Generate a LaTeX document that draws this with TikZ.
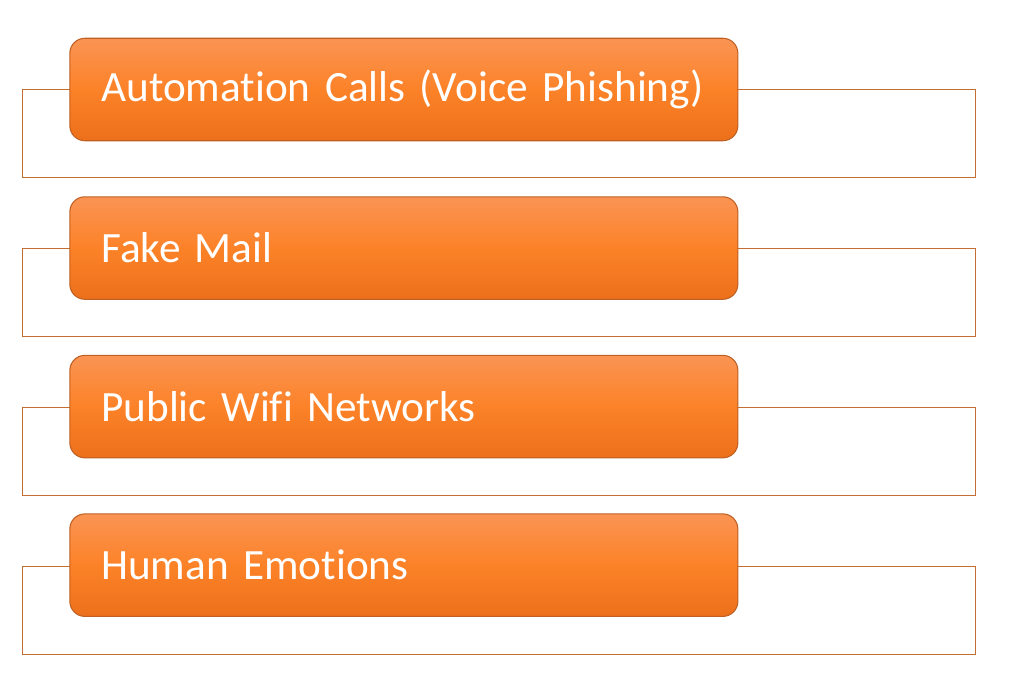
\documentclass[tikz,border=0pt]{standalone}
\usepackage{fontspec}
\setmainfont{Carlito}[Ligatures={NoCommon}]
\usepackage{xcolor}
\usetikzlibrary{positioning,calc}
\definecolor{orangetop}{RGB}{250,148,84}
\definecolor{orangemid}{RGB}{252,130,40}
\definecolor{orangebot}{RGB}{236,112,26}
\definecolor{orangeedge}{RGB}{190,96,36}
\definecolor{frameline}{RGB}{196,110,50}
\tikzset{
  itembox/.style={rectangle,rounded corners=0.3cm,draw=orangeedge,line width=0.6pt,
    top color=orangetop,bottom color=orangebot,middle color=orangemid,
    minimum width=13.33cm,minimum height=2.05cm,text width=12.1cm,align=left,
    inner xsep=0.63cm,font=\fontsize{24.6}{28}\selectfont,text=white},
  framepath/.style={draw=frameline,line width=0.7pt}
}
\begin{document}
\begin{tikzpicture}[node distance=1.10cm]
  \useasboundingbox (0,0) rectangle (20.26,-13.98);
  % frames first, so the boxes lie on top
  \foreach \i in {0,1,2,3}{
    \draw[framepath] (0.446,{-1.79-3.178*\i}) rectangle (19.514,{-3.554-3.178*\i});
  }
  \node[itembox] (calls) at (8.077,-1.79) {Automation Calls (Voice Phishing)};
  \node[itembox,below=of calls] (mail) {Fake Mail};
  \node[itembox,below=of mail] (wifi) {Public Wifi Networks};
  \node[itembox,below=of wifi] (emotions) {Human Emotions};
\end{tikzpicture}
\end{document}
